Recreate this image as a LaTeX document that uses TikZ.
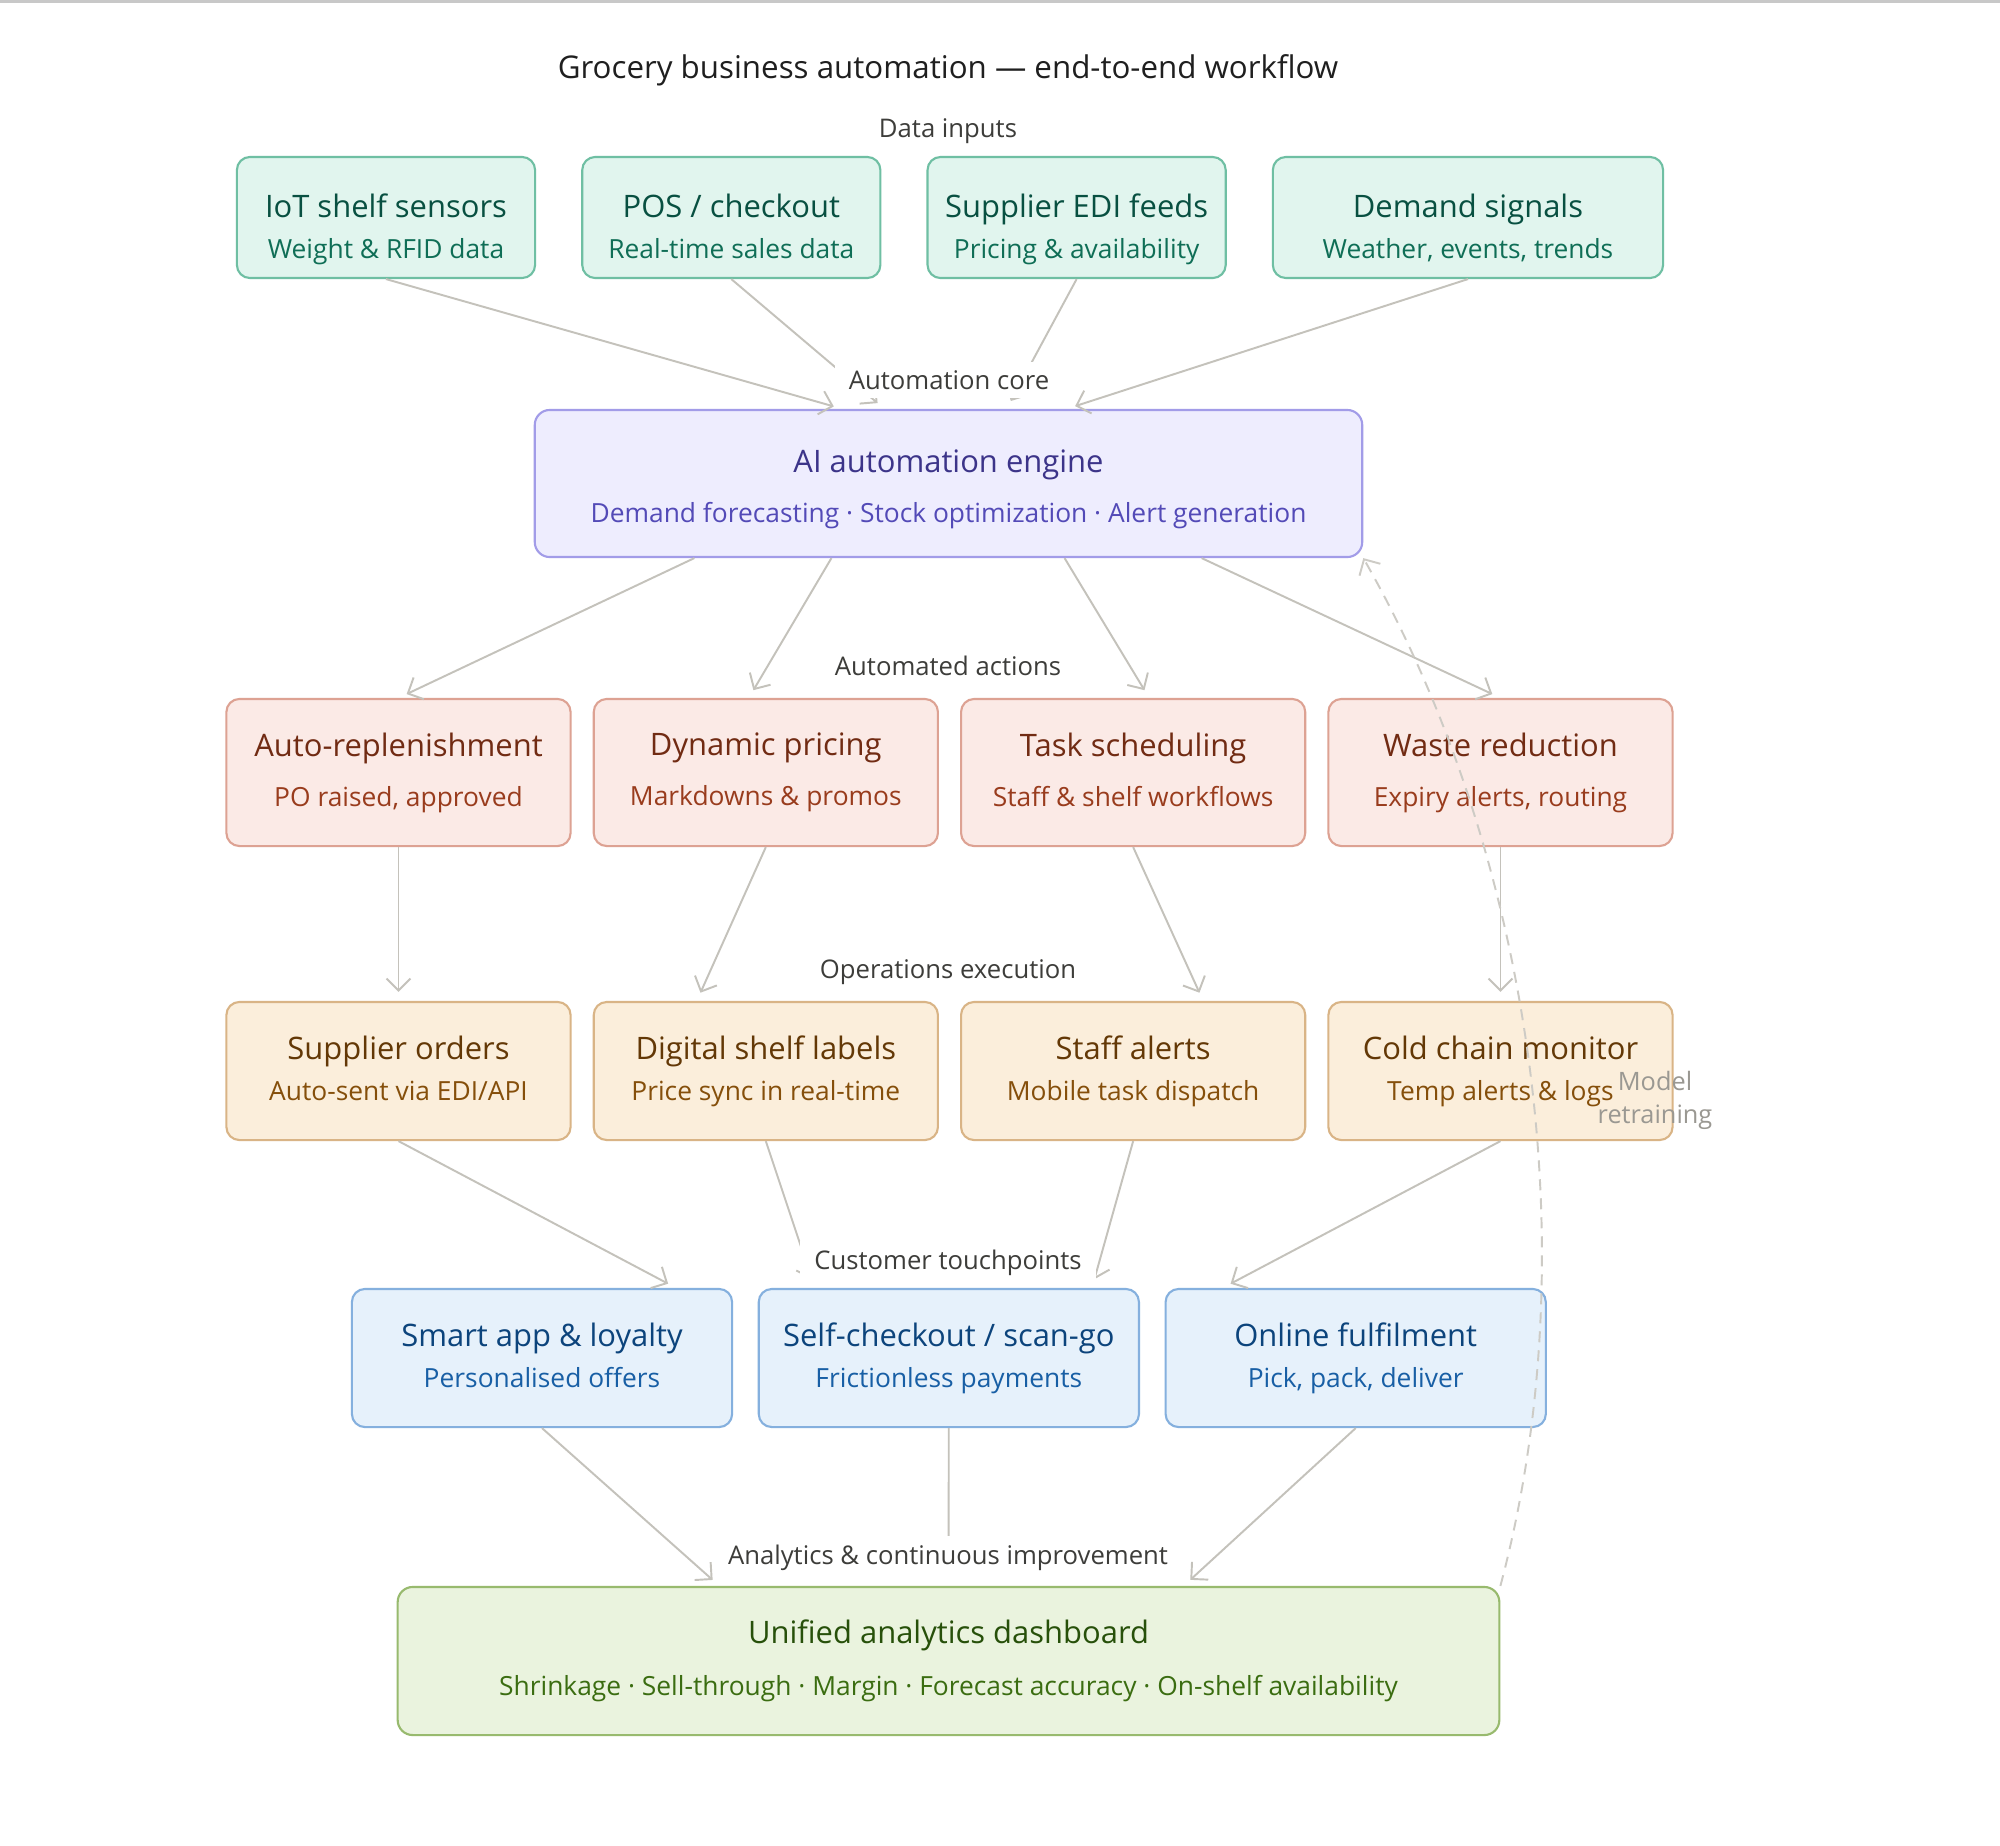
\documentclass[tikz,border=0pt]{standalone}
\usepackage{fontspec}
\setmainfont{Open Sans}
\usepackage{xcolor}
\definecolor{cText}{HTML}{1F1F1F}
\definecolor{cLabel}{HTML}{3D3D3A}
\definecolor{cRule}{HTML}{C8C8C8}
\definecolor{cArrow}{HTML}{C4C2BB}
\definecolor{cRetrain}{HTML}{9A9892}
\definecolor{cInFill}{HTML}{E1F5EE}
\definecolor{cInLine}{HTML}{6FBFA3}
\definecolor{cInTitle}{HTML}{085041}
\definecolor{cInSub}{HTML}{0F6E56}
\definecolor{cCoreFill}{HTML}{EEEDFE}
\definecolor{cCoreLine}{HTML}{A29CE8}
\definecolor{cCoreTitle}{HTML}{3C3489}
\definecolor{cCoreSub}{HTML}{534AB7}
\definecolor{cActFill}{HTML}{FBEAE6}
\definecolor{cActLine}{HTML}{DDA293}
\definecolor{cActTitle}{HTML}{712B13}
\definecolor{cActSub}{HTML}{993C1D}
\definecolor{cOpsFill}{HTML}{FBEEDB}
\definecolor{cOpsLine}{HTML}{D9B486}
\definecolor{cOpsTitle}{HTML}{633806}
\definecolor{cOpsSub}{HTML}{854F0B}
\definecolor{cTouchFill}{HTML}{E6F1FB}
\definecolor{cTouchLine}{HTML}{85B0DE}
\definecolor{cTouchTitle}{HTML}{0C447C}
\definecolor{cTouchSub}{HTML}{185FA5}
\definecolor{cDashFill}{HTML}{EAF3DE}
\definecolor{cDashLine}{HTML}{98BA6E}
\definecolor{cDashTitle}{HTML}{27500A}
\definecolor{cDashSub}{HTML}{3B6D11}
\usepackage{tikz}
\usetikzlibrary{positioning,arrows.meta}
\newcommand{\subline}[1]{{\fontsize{7.5}{9}\selectfont\color{\subcolor}\vphantom{gy}#1}}
\newcommand{\lift}[1]{\rule{0pt}{#1}}
\tikzset{
  node-box/.style={draw,line width=0.6pt,rounded corners=1.3mm,align=center,
    inner sep=2pt,font=\fontsize{8.8}{11.7}\selectfont},
  node-input/.style={draw=cInLine,fill=cInFill,text=cInTitle,
    minimum width=2.98cm,minimum height=1.21cm,
    execute at begin node={\def\subcolor{cInSub}}},
  node-core/.style={draw=cCoreLine,fill=cCoreFill,text=cCoreTitle,
    minimum width=8.27cm,minimum height=1.47cm,rounded corners=1.5mm,
    execute at begin node={\def\subcolor{cCoreSub}}},
  node-action/.style={draw=cActLine,fill=cActFill,text=cActTitle,
    minimum width=3.44cm,minimum height=1.47cm,
    execute at begin node={\def\subcolor{cActSub}}},
  node-ops/.style={draw=cOpsLine,fill=cOpsFill,text=cOpsTitle,
    minimum width=3.44cm,minimum height=1.38cm,
    execute at begin node={\def\subcolor{cOpsSub}}},
  node-touch/.style={draw=cTouchLine,fill=cTouchFill,text=cTouchTitle,
    minimum width=3.8cm,minimum height=1.38cm,
    execute at begin node={\def\subcolor{cTouchSub}}},
  node-dash/.style={draw=cDashLine,fill=cDashFill,text=cDashTitle,
    minimum width=11.01cm,minimum height=1.48cm,rounded corners=1.5mm,
    execute at begin node={\def\subcolor{cDashSub}}},
  node-lane/.style={fill=white,inner xsep=4pt,inner ysep=2.5pt,text=cLabel,
    font=\fontsize{7.3}{8.5}\selectfont},
  node-retrain/.style={align=center,inner sep=0pt,text=cRetrain,
    font=\fontsize{7.2}{9.4}\selectfont},
  arrow/.style={-{Straight Barb[length=1.2mm,width=2.4mm]},line width=0.55pt,
    draw=cArrow,shorten >=0.9mm},
  arrow-dashed/.style={-{Straight Barb[length=1.2mm,width=2.4mm]},line width=0.55pt,
    draw=cArrow!85,dash pattern=on 1.1mm off 0.8mm},
}

\begin{document}
\begin{tikzpicture}[x=0.01cm,y=-0.01cm,node distance=4.5mm]
  \fill[white] (0,0) rectangle (2000,1845);
  \useasboundingbox (0,0) rectangle (2000,1845);
  \fill[cRule] (0,0) rectangle (2000,3);

  \node[text=cText,font=\fontsize{8.9}{10}\selectfont] (title) at (948,70)
    {Grocery business automation — end-to-end workflow};

  % data inputs
  \node[node-box,node-input] (iot) at (386,217.5)
    {\lift{13.5pt}IoT shelf sensors\\\subline{Weight \& RFID data}};
  \node[node-box,node-input,right=of iot] (pos)
    {\lift{13.5pt}POS / checkout\\\subline{Real-time sales data}};
  \node[node-box,node-input,right=of pos] (edi)
    {\lift{13.5pt}Supplier EDI feeds\\\subline{Pricing \& availability}};
  \node[node-box,node-input,right=of edi,minimum width=3.9cm] (demand)
    {\lift{13.5pt}Demand signals\\\subline{Weather, events, trends}};

  % automation core
  \node[node-box,node-core] (core) at (948.5,483.5)
    {\lift{9.5pt}AI automation engine\\[2.5pt]\subline{Demand forecasting · Stock optimization · Alert generation}};

  % automated actions
  \node[node-box,node-action] (repl) at (398.5,772.5)
    {Auto-replenishment\\[2.5pt]\subline{PO raised, approved}};
  \node[node-box,node-action,right=2.1mm of repl] (pricing)
    {Dynamic pricing\\[2.5pt]\subline{Markdowns \& promos}};
  \node[node-box,node-action,right=2.1mm of pricing] (tasks)
    {Task scheduling\\[2.5pt]\subline{Staff \& shelf workflows}};
  \node[node-box,node-action,right=2.1mm of tasks] (waste)
    {Waste reduction\\[2.5pt]\subline{Expiry alerts, routing}};

  % operations execution
  \node[node-box,node-ops] (orders) at (398.5,1071)
    {Supplier orders\\\subline{Auto-sent via EDI/API}};
  \node[node-box,node-ops,right=2.1mm of orders] (labels)
    {Digital shelf labels\\\subline{Price sync in real-time}};
  \node[node-box,node-ops,right=2.1mm of labels] (alerts)
    {Staff alerts\\\subline{Mobile task dispatch}};
  \node[node-box,node-ops,right=2.1mm of alerts] (cold)
    {Cold chain monitor\\\subline{Temp alerts \& logs}};

  % customer touchpoints
  \node[node-box,node-touch] (app) at (542,1358)
    {Smart app \& loyalty\\\subline{Personalised offers}};
  \node[node-box,node-touch,right=2.45mm of app] (selfco)
    {Self-checkout / scan-go\\\subline{Frictionless payments}};
  \node[node-box,node-touch,right=2.45mm of selfco] (online)
    {Online fulfilment\\\subline{Pick, pack, deliver}};

  % analytics
  \node[node-box,node-dash] (board) at (948.5,1661)
    {Unified analytics dashboard\\[3pt]\subline{Shrinkage · Sell-through · Margin · Forecast accuracy · On-shelf availability}};

  \draw[arrow] (iot.south) -- ([xshift=-1.06cm]core.north);
  \draw[arrow] (pos.south) -- ([xshift=-0.64cm]core.north);
  \draw[arrow] (edi.south) -- ([xshift=0.58cm]core.north);
  \draw[arrow] (demand.south) -- ([xshift=1.18cm]core.north);

  \draw[arrow] ([xshift=-2.54cm]core.south) -- (repl.north);
  \draw[arrow] ([xshift=-1.17cm]core.south) -- ([xshift=-0.17cm]pricing.north);
  \draw[arrow] ([xshift=1.16cm]core.south) -- ([xshift=0.16cm]tasks.north);
  \draw[arrow] ([xshift=2.53cm]core.south) -- (waste.north);

  \draw[arrow] (repl) -- (orders);
  \draw[arrow] (pricing.south) -- ([xshift=-0.69cm]labels.north);
  \draw[arrow] (tasks.south) -- ([xshift=0.7cm]alerts.north);
  \draw[arrow] (waste) -- (cold);

  \draw[arrow] (orders.south) -- ([xshift=1.34cm]app.north);
  \draw[arrow] (labels.south) -- ([xshift=-1.34cm]selfco.north);
  \draw[arrow] (alerts.south) -- ([xshift=1.43cm]selfco.north);
  \draw[arrow] (cold.south) -- ([xshift=-1.33cm]online.north);

  \draw[arrow] (app.south) -- ([xshift=-2.29cm]board.north);
  \draw[arrow] (selfco) -- (board);
  \draw[arrow] (online.south) -- ([xshift=2.35cm]board.north);

  \draw[arrow-dashed] (board.north east) .. controls (1590,1250) and (1530,850) .. (core.south east);

  \node[node-lane,fill=none] (lane-in) at (948,131) {Data inputs};
  \node[node-lane] (lane-core) at (949,380) {Automation core};
  \node[node-lane] (lane-act) at (948,666) {Automated actions};
  \node[node-lane] (lane-ops) at (948,972) {Operations execution};
  \node[node-lane] (lane-touch) at (948,1263) {Customer touchpoints};
  \node[node-lane] (lane-ana) at (948,1558) {Analytics \& continuous improvement};
  \node[node-retrain] (retrain) at (1655,1100) {Model\\retraining};
\end{tikzpicture}
\end{document}
